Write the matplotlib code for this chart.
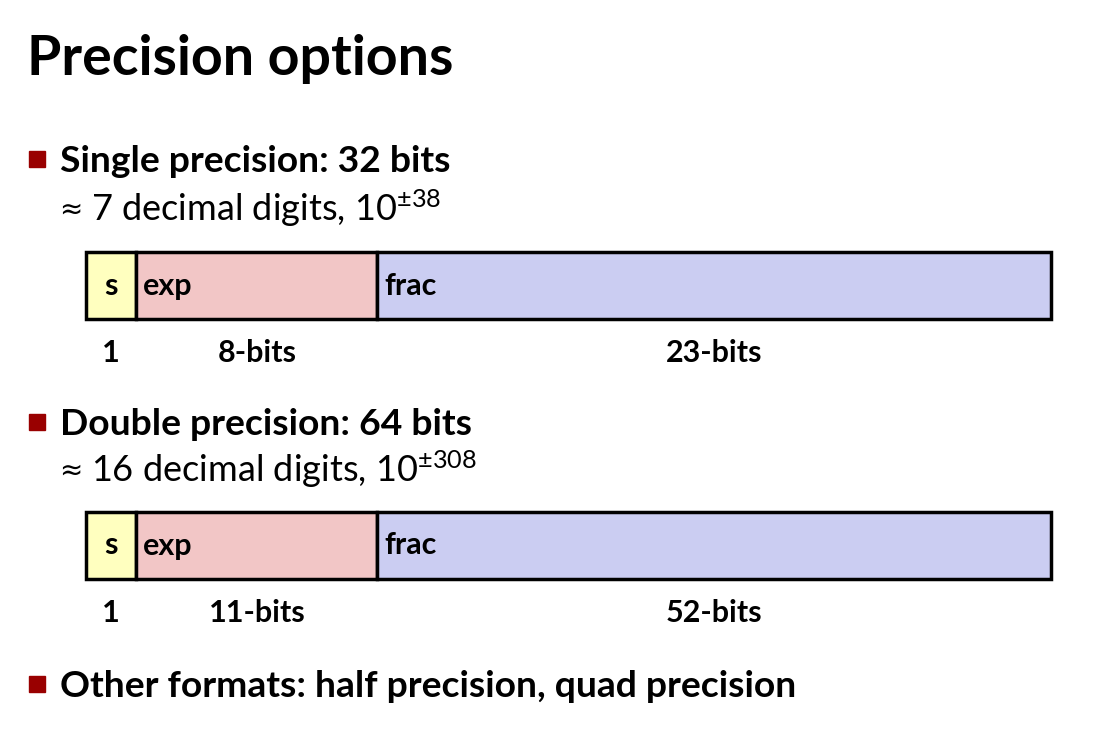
import matplotlib.pyplot as plt
from matplotlib.patches import Rectangle

plt.rcParams['font.family'] = ['Lato', 'DejaVu Sans']
plt.rcParams['mathtext.fontset'] = 'custom'
plt.rcParams['mathtext.rm'] = 'Lato'
plt.rcParams['mathtext.it'] = 'Lato:italic'
plt.rcParams['mathtext.bf'] = 'Lato:bold'

title = "Precision options"
bullets = ["Single precision: 32 bits",
           "Double precision: 64 bits",
           "Other formats: half precision, quad precision"]
digits = ["7", "16"]
exps = ["±38", "±308"]
fields = ["s", "exp", "frac"]
single_bits = ["1", "8-bits", "23-bits"]
double_bits = ["1", "11-bits", "52-bits"]
field_colors = ["#ffffbf", "#f2c6c6", "#cbcdf2"]

W, H = 1108, 735
fig = plt.figure(figsize=(W / 100, H / 100), dpi=100)
ax = fig.add_axes([0, 0, 1, 1])
ax.set_xlim(0, W)
ax.set_ylim(H, 0)
ax.axis('off')

ax.text(27, 75, title, fontsize=40, fontweight='bold', va='baseline')

# layout (pixels)
bullet_y = [172, 435, 697]
sub_y = [221, 482]
box_top = [252, 512]
box_h = 67
edges = [86, 136, 377, 1051]
label_y = [362, 622]


def bullet(y, text):
    ax.add_patch(Rectangle((29, y - 21), 16, 16, color='#990000'))
    ax.text(60, y, text, fontsize=26.8, fontweight='bold', va='baseline')


for i in range(3):
    bullet(bullet_y[i], bullets[i])

for i in range(2):
    ax.text(59, sub_y[i] - 3, "≈", fontsize=20, va='baseline', family='DejaVu Sans')
    ax.text(91, sub_y[i], digits[i] + " decimal digits, $10^{" + exps[i] + "}$",
            fontsize=26, va='baseline')
    top = box_top[i]
    for j in range(3):
        ax.add_patch(Rectangle((edges[j], top), edges[j + 1] - edges[j], box_h,
                               facecolor=field_colors[j], edgecolor='black', lw=2.5))
    yb = top + box_h / 2 + 9
    ax.text((edges[0] + edges[1]) / 2, yb, fields[0], fontsize=22, fontweight='bold',
            ha='center', va='baseline')
    ax.text(edges[1] + 7, yb, fields[1], fontsize=22, fontweight='bold', va='baseline')
    ax.text(edges[2] + 7, yb, fields[2], fontsize=22, fontweight='bold', va='baseline')
    labels = single_bits if i == 0 else double_bits
    ax.text(111, label_y[i], labels[0], fontsize=22, fontweight='bold', ha='center', va='baseline')
    ax.text(257, label_y[i], labels[1], fontsize=22, fontweight='bold', ha='center', va='baseline')
    ax.text(714, label_y[i], labels[2], fontsize=22, fontweight='bold', ha='center', va='baseline')

fig.savefig('out.png', dpi=100)
